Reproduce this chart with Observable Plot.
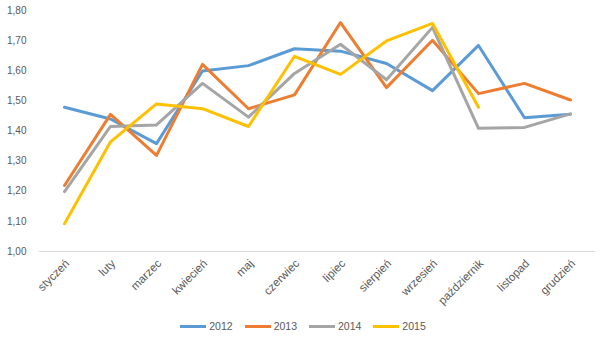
<!DOCTYPE html>
<html>
<head>
<meta charset="utf-8">
<script src="https://cdn.jsdelivr.net/npm/d3@7"></script>
<script src="https://cdn.jsdelivr.net/npm/@observablehq/plot@0.6"></script>
<style>
  html, body { margin: 0; padding: 0; background: #ffffff; }
  #chart { width: 606px; }
  .legend { display: flex; justify-content: center; align-items: center; gap: 0; height: 28px;
    font-family: "Liberation Sans", Arial, sans-serif; font-size: 10.5px; color: #595959; }
  .legend .item { display: flex; align-items: center; margin: 0 6px; }
  .legend .sw { width: 26px; height: 3px; margin-right: 3px; }
</style>
</head>
<body>
<div id="chart"></div>
<script>
const months = ["styczeń","luty","marzec","kwiecień","maj","czerwiec","lipiec","sierpień","wrzesień","październik","listopad","grudzień"];
const years = ["2012","2013","2014","2015"];
const colors = ["#5B9BD5","#ED7D31","#A5A5A5","#FFC000"];
const v2012 = [1.479,1.440,1.358,1.599,1.617,1.673,1.665,1.624,1.534,1.684,1.444,1.456];
const v2013 = [1.219,1.455,1.319,1.621,1.474,1.520,1.760,1.544,1.701,1.524,1.558,1.503];
const v2014 = [1.199,1.415,1.420,1.558,1.446,1.591,1.688,1.570,1.744,1.409,1.412,1.457];
const v2015 = [1.092,1.364,1.490,1.474,1.415,1.648,1.588,1.699,1.757,1.479,null,null];
const yTicks = [1.0,1.1,1.2,1.3,1.4,1.5,1.6,1.7,1.8];

const series = [v2012, v2013, v2014, v2015];
const data = [];
series.forEach((vals, i) => vals.forEach((v, j) => {
  if (v != null) data.push({year: years[i], month: months[j], value: v});
}));

const font = '"Liberation Sans", Arial, sans-serif';
const chart = Plot.plot({
  width: 606,
  height: 312,
  marginTop: 10,
  marginBottom: 61,
  marginLeft: 39,
  marginRight: 11,
  style: {fontFamily: font, fontSize: "10px", color: "#595959", background: "#ffffff"},
  x: {type: "point", domain: months, padding: 0.5, label: null},
  y: {domain: [1.0, 1.8], label: null},
  color: {domain: years, range: colors},
  marks: [
    Plot.ruleY([1.0], {stroke: "#d9d9d9", strokeWidth: 1}),
    Plot.axisY({ticks: yTicks, tickSize: 0, tickPadding: 13, label: null,
      tickFormat: d => d3.format(".2f")(d).replace(".", ","), fill: "#595959", fontSize: 10}),
    Plot.axisX({tickSize: 0, tickPadding: 10, tickRotate: -45, label: null, fill: "#595959", fontSize: 11.5, dx: 3}),
    Plot.line(data, {x: "month", y: "value", z: "year", stroke: "year", strokeWidth: 3,
      strokeLinejoin: "round", strokeLinecap: "round"})
  ]
});
document.getElementById("chart").appendChild(chart);

const legend = document.createElement("div");
legend.className = "legend";
years.forEach((y, i) => {
  const item = document.createElement("div");
  item.className = "item";
  const sw = document.createElement("span");
  sw.className = "sw";
  sw.style.background = colors[i];
  const t = document.createElement("span");
  t.textContent = y;
  item.appendChild(sw); item.appendChild(t);
  legend.appendChild(item);
});
document.getElementById("chart").appendChild(legend);
</script>
</body>
</html>
